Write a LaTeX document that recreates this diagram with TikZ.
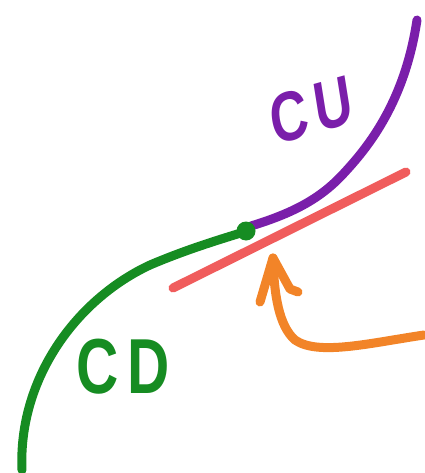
\documentclass[tikz,border=0pt]{standalone}
\usepackage{fontspec}
\setmainfont{Liberation Sans}
\definecolor{cdgreen}{RGB}{22,140,34}
\definecolor{cupurple}{RGB}{122,30,170}
\definecolor{tanred}{RGB}{240,92,92}
\definecolor{arrorange}{RGB}{242,132,40}
\begin{document}
\begin{tikzpicture}[x=1pt,y=-1pt,line width=9pt,line cap=round,line join=round]
  \useasboundingbox (0,0) rectangle (424,473);
  % tangent line
  \draw[tanred] (173,288) -- (406,172);
  % concave down part
  \draw[cdgreen] (22,470) .. controls (18,380) and (75,300) .. (150,265)
    .. controls (190,248) and (225,238) .. (247,231);
  % concave up part
  \draw[cupurple] (251,226) .. controls (290,214) and (320,200) .. (345,172)
    .. controls (370,145) and (405,100) .. (417,20);
  % inflection point
  \coordinate (ip) at (246,231);
  \fill[cdgreen] (ip) circle (9.5);
  % arrow
  \coordinate (tip) at (273,258);
  \draw[arrorange] (424,335) .. controls (370,343) and (318,356) .. (295,340)
    .. controls (279,326) and (274,295) .. (tip);
  \draw[arrorange] (260,302) -- (tip) -- (290,289) -- (298,292);
  % labels
  \node[cupurple,font=\fontsize{70}{70}\selectfont\bfseries,xscale=0.75,rotate=12] (cu) at (311,110) {C\hspace{10pt}U};
  \node[cdgreen,font=\fontsize{78}{78}\selectfont\bfseries,xscale=0.75] (cd) at (123,367) {C\hspace{12pt}D};
\end{tikzpicture}
\end{document}
